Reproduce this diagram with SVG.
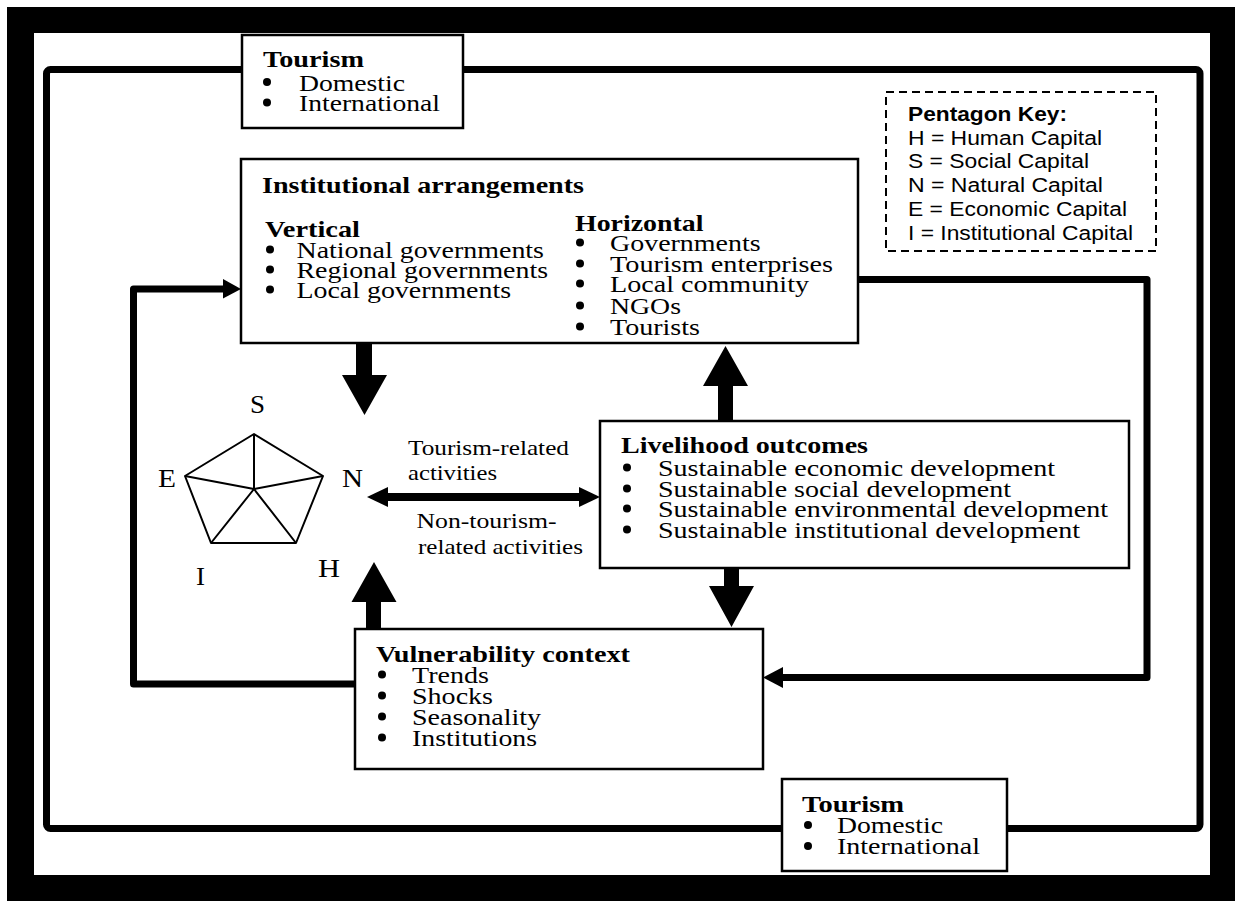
<svg xmlns="http://www.w3.org/2000/svg" width="1235" height="901" viewBox="0 0 1235 901">
  <style>
    .box { fill: #fff; stroke: #000; stroke-width: 2.5; }
    .key { fill: #fff; stroke: #000; stroke-width: 2; stroke-dasharray: 8 5; }
    .t { font-family: "Liberation Serif", "Times New Roman", serif; font-size: 24px; fill: #000; }
    .h { font-weight: bold; }
    .s { font-family: "Liberation Sans", Arial, sans-serif; font-size: 19.5px; fill: #000; }
    .lbl { font-family: "Liberation Serif", "Times New Roman", serif; font-size: 21px; fill: #000; }
    .pl { font-family: "Liberation Serif", "Times New Roman", serif; font-size: 25px; fill: #000; }
    .loop { fill: none; stroke: #000; stroke-width: 7; stroke-linejoin: round; }
    .thin { fill: none; stroke: #000; stroke-width: 8; }
    .pent { fill: #fff; stroke: #000; stroke-width: 2; stroke-linejoin: round; }
    .blk { fill: #000; }
  </style>

  <!-- page and thick black frame -->
  <rect x="0" y="0" width="1235" height="901" fill="#fff"/>
  <rect x="7" y="7" width="1228" height="894" fill="#000"/>
  <rect x="34" y="33" width="1176" height="842" fill="#fff"/>

  <g id="connectors">
    <!-- outer tourism loop -->
    <rect class="loop" x="46.5" y="69.5" width="1153.5" height="759" rx="4"/>
    <!-- feedback from vulnerability back to institutions -->
    <polyline class="loop" points="355,684 133.5,684 133.5,289 224,289"/>
    <polygon class="blk" points="223,279 241,289 223,298.5"/>
    <!-- institutions out to vulnerability -->
    <polyline class="loop" points="858,279.5 1147,279.5 1147,677.5 782,677.5"/>
    <polygon class="blk" points="783,667 763,677.5 783,688"/>
    <!-- activities double arrow -->
    <line class="thin" x1="386" y1="497" x2="580" y2="497"/>
    <polygon class="blk" points="388,487 367,497 388,507"/>
    <polygon class="blk" points="579,487 600,497 579,507"/>
    <!-- block arrows -->
    <polygon class="blk" points="356,344 372,344 372,375 387,375 364.5,415 342,375 356,375"/>
    <polygon class="blk" points="718,421 733,421 733,386 748,386 725.5,346 703,386 718,386"/>
    <polygon class="blk" points="724,568 739,568 739,586 754,586 731.5,627 709,586 724,586"/>
    <polygon class="blk" points="366,629 381,629 381,602 396.5,602 374,562 351.5,602 366,602"/>
  </g>

  <g id="tourism-top">
    <rect class="box" x="242" y="35" width="221" height="93"/>
    <text class="t h" x="263" y="67" textLength="101" lengthAdjust="spacingAndGlyphs">Tourism</text>
    <circle cx="267" cy="82" r="4"/>
    <text class="t" x="299" y="90.5" textLength="106" lengthAdjust="spacingAndGlyphs">Domestic</text>
    <circle cx="267" cy="102.5" r="4"/>
    <text class="t" x="299" y="110.5" textLength="141" lengthAdjust="spacingAndGlyphs">International</text>
  </g>

  <g id="tourism-bottom">
    <rect class="box" x="782" y="779" width="225" height="92"/>
    <text class="t h" x="802" y="812" textLength="102" lengthAdjust="spacingAndGlyphs">Tourism</text>
    <circle cx="808" cy="825" r="4"/>
    <text class="t" x="837" y="833" textLength="106" lengthAdjust="spacingAndGlyphs">Domestic</text>
    <circle cx="808" cy="846" r="4"/>
    <text class="t" x="837" y="854" textLength="143" lengthAdjust="spacingAndGlyphs">International</text>
  </g>

  <g id="pentagon-key">
    <rect class="key" x="886" y="92" width="270" height="159"/>
    <text class="s h" x="908" y="121" textLength="159" lengthAdjust="spacingAndGlyphs">Pentagon Key:</text>
    <text class="s" x="908" y="145" textLength="194" lengthAdjust="spacingAndGlyphs">H = Human Capital</text>
    <text class="s" x="908" y="168" textLength="181" lengthAdjust="spacingAndGlyphs">S = Social Capital</text>
    <text class="s" x="908" y="192" textLength="195" lengthAdjust="spacingAndGlyphs">N = Natural Capital</text>
    <text class="s" x="908" y="216" textLength="219" lengthAdjust="spacingAndGlyphs">E = Economic Capital</text>
    <text class="s" x="908" y="240" textLength="225" lengthAdjust="spacingAndGlyphs">I = Institutional Capital</text>
  </g>

  <g id="institutional-arrangements">
    <rect class="box" x="241" y="159" width="617" height="184"/>
    <text class="t h" x="262" y="193" textLength="322" lengthAdjust="spacingAndGlyphs">Institutional arrangements</text>
    <text class="t h" x="265" y="237" textLength="95" lengthAdjust="spacingAndGlyphs">Vertical</text>
    <circle cx="270" cy="249.5" r="4"/>
    <text class="t" x="296.5" y="258" textLength="247.5" lengthAdjust="spacingAndGlyphs">National governments</text>
    <circle cx="270" cy="269.5" r="4"/>
    <text class="t" x="296.5" y="278" textLength="251.5" lengthAdjust="spacingAndGlyphs">Regional governments</text>
    <circle cx="270" cy="289.5" r="4"/>
    <text class="t" x="296.5" y="298" textLength="214.5" lengthAdjust="spacingAndGlyphs">Local governments</text>
    <text class="t h" x="575" y="231" textLength="128.5" lengthAdjust="spacingAndGlyphs">Horizontal</text>
    <circle cx="580" cy="242.5" r="4"/>
    <text class="t" x="610" y="251" textLength="150.6" lengthAdjust="spacingAndGlyphs">Governments</text>
    <circle cx="580" cy="263.5" r="4"/>
    <text class="t" x="610" y="272" textLength="223" lengthAdjust="spacingAndGlyphs">Tourism enterprises</text>
    <circle cx="580" cy="283.5" r="4"/>
    <text class="t" x="610" y="292" textLength="199" lengthAdjust="spacingAndGlyphs">Local community</text>
    <circle cx="580" cy="305.5" r="4"/>
    <text class="t" x="610" y="314" textLength="71" lengthAdjust="spacingAndGlyphs">NGOs</text>
    <circle cx="580" cy="326.5" r="4"/>
    <text class="t" x="610" y="335" textLength="90" lengthAdjust="spacingAndGlyphs">Tourists</text>
  </g>

  <g id="livelihood-outcomes">
    <rect class="box" x="600" y="421" width="529" height="147"/>
    <text class="t h" x="621" y="453" textLength="247" lengthAdjust="spacingAndGlyphs">Livelihood outcomes</text>
    <circle cx="627" cy="467.5" r="4"/>
    <text class="t" x="658" y="476" textLength="397" lengthAdjust="spacingAndGlyphs">Sustainable economic development</text>
    <circle cx="627" cy="488.5" r="4"/>
    <text class="t" x="658" y="497" textLength="353" lengthAdjust="spacingAndGlyphs">Sustainable social development</text>
    <circle cx="627" cy="508.5" r="4"/>
    <text class="t" x="658" y="517" textLength="450" lengthAdjust="spacingAndGlyphs">Sustainable environmental development</text>
    <circle cx="627" cy="529.5" r="4"/>
    <text class="t" x="658" y="538" textLength="422" lengthAdjust="spacingAndGlyphs">Sustainable institutional development</text>
  </g>

  <g id="vulnerability-context">
    <rect class="box" x="355" y="629" width="408" height="140"/>
    <text class="t h" x="376" y="662" textLength="254" lengthAdjust="spacingAndGlyphs">Vulnerability context</text>
    <circle cx="382" cy="674.5" r="4"/>
    <text class="t" x="412" y="683" textLength="77" lengthAdjust="spacingAndGlyphs">Trends</text>
    <circle cx="382" cy="695.5" r="4"/>
    <text class="t" x="412" y="704" textLength="81" lengthAdjust="spacingAndGlyphs">Shocks</text>
    <circle cx="382" cy="716.5" r="4"/>
    <text class="t" x="412" y="725" textLength="129" lengthAdjust="spacingAndGlyphs">Seasonality</text>
    <circle cx="382" cy="737.5" r="4"/>
    <text class="t" x="412" y="746" textLength="125" lengthAdjust="spacingAndGlyphs">Institutions</text>
  </g>

  <g id="livelihood-pentagon">
    <polygon class="pent" points="254,434 323,476 296,543 211,543 185,476"/>
    <path class="pent" d="M254,489 L254,434 M254,489 L323,476 M254,489 L296,543 M254,489 L211,543 M254,489 L185,476"/>
    <text class="pl" x="250" y="413" textLength="15" lengthAdjust="spacingAndGlyphs">S</text>
    <text class="pl" x="158" y="487" textLength="18" lengthAdjust="spacingAndGlyphs">E</text>
    <text class="pl" x="342" y="487" textLength="21" lengthAdjust="spacingAndGlyphs">N</text>
    <text class="pl" x="196" y="585" textLength="9" lengthAdjust="spacingAndGlyphs">I</text>
    <text class="pl" x="318" y="577" textLength="22" lengthAdjust="spacingAndGlyphs">H</text>
  </g>

  <g id="activity-labels">
    <text class="lbl" x="408" y="455" textLength="161" lengthAdjust="spacingAndGlyphs">Tourism-related</text>
    <text class="lbl" x="408" y="480" textLength="89" lengthAdjust="spacingAndGlyphs">activities</text>
    <text class="lbl" x="416.5" y="528" textLength="140" lengthAdjust="spacingAndGlyphs">Non-tourism-</text>
    <text class="lbl" x="418" y="554" textLength="165" lengthAdjust="spacingAndGlyphs">related activities</text>
  </g>
</svg>
